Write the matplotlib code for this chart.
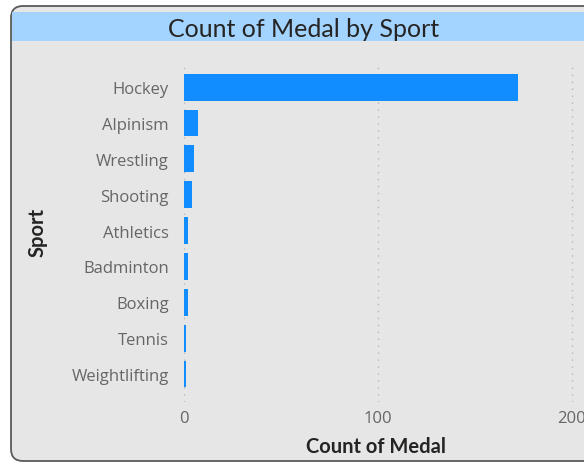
import matplotlib
matplotlib.use('Agg')
import matplotlib.pyplot as plt
from matplotlib.patches import FancyBboxPatch, Rectangle

# data
sports = ['Hockey', 'Alpinism', 'Wrestling', 'Shooting', 'Athletics',
          'Badminton', 'Boxing', 'Tennis', 'Weightlifting']
medals = [172, 7, 5, 4, 2, 2, 2, 1, 1]
x_ticks = [0, 100, 200]

W, H = 584, 464
fig = plt.figure(figsize=(W / 100, H / 100), dpi=100)
fig.patch.set_facecolor('white')

# background layer in pixel coordinates
bg = fig.add_axes([0, 0, 1, 1])
bg.set_xlim(0, W)
bg.set_ylim(H, 0)
bg.axis('off')
bg.add_patch(FancyBboxPatch((11, 7), 620, 455, boxstyle='round,pad=0,rounding_size=12',
                            facecolor='#e6e6e6', edgecolor='#5a5a5a', linewidth=1.3))
bg.add_patch(Rectangle((12, 12.5), 600, 29.5, facecolor='#a3d3ff', edgecolor='none'))
bg.text(304, 36.7, 'Count of Medal by Sport', ha='center', va='baseline',
        fontsize=18, color='#252423', family='Lato')

# main bar chart
ax = fig.add_axes([184 / W, 1 - 403 / H, 400 / W, 336 / H])
ax.patch.set_alpha(0)
ax.barh(range(len(sports)), medals, height=0.75, color='#118dff')
ax.set_ylim(8.78, -0.59)
ax.set_xlim(0, 206.2)
ax.set_yticks(range(len(sports)))
ax.set_yticklabels(sports)
ax.set_xticks(x_ticks)
ax.tick_params(axis='both', length=0, colors='#666666', labelsize=12)
ax.tick_params(axis='y', pad=11)
ax.tick_params(axis='x', pad=6)
for lab in ax.get_xticklabels() + ax.get_yticklabels():
    lab.set_family('Open Sans')
ax.xaxis.grid(True, linestyle=(0, (1, 4)), color='#b8b8b8', linewidth=1)
ax.set_axisbelow(True)
for s in ax.spines.values():
    s.set_visible(False)

bg.text(38, 232, 'Sport', rotation=90, ha='center', va='center',
        fontsize=14.5, color='#252423', family='Lato', fontweight='bold')
bg.text(376.5, 452.7, 'Count of Medal', ha='center', va='baseline',
        fontsize=14.5, color='#252423', family='Lato', fontweight='bold')

fig.savefig('out.png', dpi=100)
